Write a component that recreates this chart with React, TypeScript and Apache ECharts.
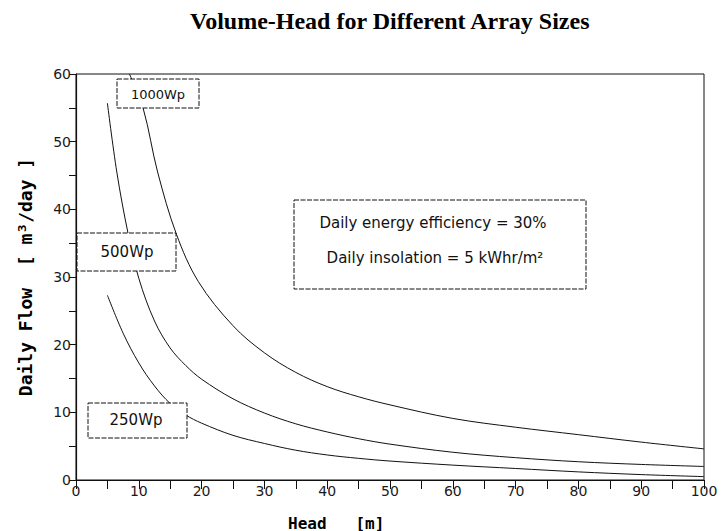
import React, { useEffect, useRef } from 'react';
import * as echarts from 'echarts';

const chartTitle = 'Volume-Head for Different Array Sizes';
const xAxisName = 'Head   [m]';
const yAxisName = 'Daily Flow  [ m³/day ]';
const noteLines = ['Daily energy efficiency = 30%', 'Daily insolation = 5 kWhr/m²'];

const seriesNames = ['250Wp', '500Wp', '1000Wp'];

const head250 = [5, 7.5, 10, 12.5, 15, 17.5, 20, 25, 30, 35, 40, 45, 50, 60, 70, 80, 90, 100];
const flow250 = [27.3, 21.7, 17.3, 13.9, 11.3, 9.6, 8.4, 6.6, 5.4, 4.4, 3.7, 3.2, 2.8, 2.2, 1.7, 1.2, 0.8, 0.5];

const head500 = [5, 6.5, 8.3, 10, 12.5, 15, 17.5, 20, 25, 30, 35, 40, 45, 50, 60, 70, 80, 90, 100];
const flow500 = [55.7, 45.5, 36.4, 29.8, 23.5, 19.5, 16.9, 14.9, 12.0, 9.9, 8.3, 7.1, 6.1, 5.3, 4.1, 3.3, 2.7, 2.3, 2.0];

const head1000 = [8.5, 10.7, 13, 16, 19.5, 25, 30, 35, 40, 45, 50, 60, 70, 80, 90, 100];
const flow1000 = [60, 54.9, 45.5, 36.3, 29.3, 22.8, 18.8, 15.9, 13.8, 12.3, 11.1, 9.1, 7.8, 6.7, 5.6, 4.6];

const xTicks = [0, 10, 20, 30, 40, 50, 60, 70, 80, 90, 100];
const yTicks = [0, 10, 20, 30, 40, 50, 60];

const zip = (h: number[], q: number[]) => h.map((v, i) => [v, q[i]]);

export default function App() {
  const ref = useRef<HTMLDivElement>(null);

  useEffect(() => {
    document.body.style.margin = '0';
    if (!ref.current) return;
    const chart = echarts.init(ref.current, undefined, { renderer: 'svg' });

    const tickFont = { fontFamily: 'DejaVu Sans', fontSize: 14, color: '#1a1a1a' };
    const boxStyle = { fill: '#fff', stroke: '#111', lineWidth: 1, lineDash: [5, 1.5] };
    const labelFont = (size: number) => `${size}px DejaVu Sans`;

    const option: any = {
      animation: false,
      backgroundColor: '#fff',
      title: {
        text: chartTitle,
        left: 185,
        top: 4,
        textStyle: { fontFamily: 'Liberation Serif', fontWeight: 'bold', fontSize: 24, color: '#000' },
      },
      grid: { left: 76, right: 24, top: 74, bottom: 51, show: true, borderColor: '#111', borderWidth: 1, backgroundColor: 'transparent' },
      xAxis: {
        type: 'value',
        min: 0,
        max: 100,
        interval: 5,
        axisLine: { show: true, lineStyle: { color: '#111', width: 1.2 } },
        axisTick: { show: true, length: 9, lineStyle: { color: '#111', width: 1 } },
        axisLabel: {
          ...tickFont,
          margin: 4,
          formatter: (v: number) => (xTicks.includes(v) ? String(v) : ''),
        },
        splitLine: { show: false },
      },
      yAxis: {
        type: 'value',
        min: 0,
        max: 60,
        interval: 5,
        name: yAxisName,
        nameLocation: 'middle',
        nameRotate: 90,
        nameGap: 42,
        nameTextStyle: { fontFamily: 'DejaVu Sans Mono', fontWeight: 'bold', fontSize: 18, color: '#000' },
        axisLine: { show: true, lineStyle: { color: '#111', width: 1.2 } },
        axisTick: { show: true, length: 7, lineStyle: { color: '#111', width: 1 } },
        axisLabel: {
          ...tickFont,
          margin: 5,
          formatter: (v: number) => (yTicks.includes(v) ? String(v) : ''),
        },
        splitLine: { show: false },
      },
      series: [
        { name: seriesNames[0], data: zip(head250, flow250) },
        { name: seriesNames[1], data: zip(head500, flow500) },
        { name: seriesNames[2], data: zip(head1000, flow1000) },
      ].map((s) => ({
        ...s,
        type: 'line',
        smooth: 0.35,
        symbol: 'none',
        clip: true,
        lineStyle: { color: '#111', width: 1 },
      })),
      graphic: [
        { type: 'rect', z: 100, shape: { x: 117, y: 79, width: 82, height: 29 }, style: boxStyle },
        { type: 'text', z: 101, x: 158, y: 94, style: { text: seriesNames[2], font: labelFont(13), fill: '#111', align: 'center', verticalAlign: 'middle' } },
        { type: 'rect', z: 100, shape: { x: 77, y: 233, width: 99, height: 38 }, style: boxStyle },
        { type: 'text', z: 101, x: 127, y: 252, style: { text: seriesNames[1], font: labelFont(15), fill: '#111', align: 'center', verticalAlign: 'middle' } },
        { type: 'rect', z: 100, shape: { x: 88, y: 403, width: 99, height: 35 }, style: boxStyle },
        { type: 'text', z: 101, x: 136, y: 420, style: { text: seriesNames[0], font: labelFont(15), fill: '#111', align: 'center', verticalAlign: 'middle' } },
        { type: 'rect', z: 100, shape: { x: 294, y: 200, width: 292, height: 89 }, style: boxStyle },
        { type: 'text', z: 101, x: 433, y: 223, style: { text: noteLines[0], font: labelFont(15), fill: '#111', align: 'center', verticalAlign: 'middle' } },
        { type: 'text', z: 101, x: 435, y: 258, style: { text: noteLines[1], font: labelFont(15), fill: '#111', align: 'center', verticalAlign: 'middle' } },
        { type: 'text', z: 101, x: 288, y: 523, style: { text: xAxisName, font: 'bold 16px DejaVu Sans Mono', fill: '#000', align: 'left', verticalAlign: 'middle' } },
      ],
    };

    chart.setOption(option);
    return () => chart.dispose();
  }, []);

  return <div ref={ref} style={{ width: 728, height: 531 }} />;
}
